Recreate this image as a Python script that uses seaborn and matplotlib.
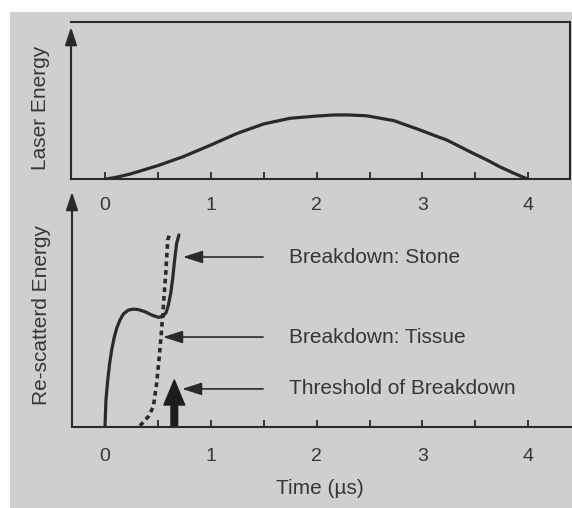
import numpy as np
import pandas as pd
import matplotlib
matplotlib.use("Agg")
import matplotlib.pyplot as plt
from matplotlib.patches import Rectangle, FancyArrowPatch
import seaborn as sns

# ---- data ----
laser_t = [0.0, 0.12, 0.24, 0.5, 0.74, 1.0, 1.25, 1.5, 1.75, 2.0, 2.16, 2.3, 2.47, 2.73, 2.98,
           3.10, 3.23, 3.48, 3.61, 3.73, 3.86, 4.0]
laser_e = [0.0, 0.015, 0.034, 0.087, 0.144, 0.218, 0.292, 0.352, 0.388, 0.402, 0.409, 0.409,
           0.404, 0.373, 0.313, 0.282, 0.250, 0.165, 0.123, 0.080, 0.040, 0.0]

stone_t = [0.0, 0.009, 0.026, 0.044, 0.063, 0.085, 0.110, 0.142, 0.173, 0.221, 0.268, 0.315,
           0.378, 0.441, 0.504, 0.545, 0.577, 0.599, 0.621, 0.640, 0.658, 0.677, 0.699]
stone_e = [0.0, 0.114, 0.199, 0.270, 0.327, 0.376, 0.419, 0.455, 0.480, 0.497, 0.501, 0.499,
           0.490, 0.476, 0.466, 0.469, 0.486, 0.518, 0.568, 0.632, 0.710, 0.781, 0.817]

tissue_t = [0.331, 0.409, 0.457, 0.488, 0.513, 0.535, 0.551, 0.574, 0.593, 0.608]
tissue_e = [0.004, 0.043, 0.085, 0.184, 0.298, 0.412, 0.511, 0.653, 0.795, 0.817]

threshold_t = 0.655
threshold_e = 0.199

major_ticks = [0, 1, 2, 3, 4]
minor_ticks = [0.5, 1.5, 2.5, 3.5]
tick_labels = ["0", "1", "2", "3", "4"]

ann_labels = ["Breakdown: Stone", "Breakdown: Tissue", "Threshold of Breakdown"]
ann_tip_t = [0.737, 0.548, 0.728]
ann_e = [0.723, 0.382, 0.161]
ann_tail_t = 1.494
ann_text_t = 1.74

ylabel_top = "Laser Energy"
ylabel_bottom = "Re-scatterd Energy"
xlabel = "Time (\u00b5s)"

# ---- styling ----
sns.set_style("ticks")
plt.rcParams['font.family'] = ['Liberation Sans', 'DejaVu Sans']

W, H = 572, 508
fig = plt.figure(figsize=(W / 100, H / 100), dpi=100, facecolor="white")
BG = "#cfcfcf"
INK = "#2a2a2a"
TXT = "#363636"
fig.patches.append(Rectangle((10 / W, 0), (W - 10) / W, (H - 12) / H,
                             transform=fig.transFigure, facecolor=BG,
                             edgecolor="none", zorder=-10))

PXU = 105.8   # pixels per microsecond
X0 = 105.0    # pixel of t = 0


def add_axes_px(left, right, top, bottom):
    ax = fig.add_axes([left / W, 1 - bottom / H, (right - left) / W, (bottom - top) / H])
    ax.set_facecolor("none")
    ax.set_xlim((left - X0) / PXU, (right - X0) / PXU)
    return ax


def style_axis(ax, pad):
    ax.set_xticks(major_ticks)
    ax.set_xticklabels(tick_labels)
    ax.set_xticks(minor_ticks, minor=True)
    ax.set_yticks([])
    ax.tick_params(axis="x", which="both", direction="in", length=5, width=1.3,
                   color=INK, labelsize=14, labelcolor=TXT, pad=pad)
    ax.spines["bottom"].set_linewidth(1.5)
    ax.spines["bottom"].set_color(INK)
    ax.spines["left"].set_visible(False)


def y_arrow(ax, top):
    ax.annotate("", xy=(0, top), xycoords="axes fraction", xytext=(0, 0),
                arrowprops=dict(arrowstyle="-|>,head_length=0.9,head_width=0.3",
                                lw=1.5, color=INK, mutation_scale=12,
                                shrinkA=0, shrinkB=0), annotation_clip=False)


# ---- top panel ----
ax1 = add_axes_px(71, 570, 22, 179.3)
ax1.set_ylim(0, 1)
style_axis(ax1, pad=12.5)
for s in ["top", "right"]:
    ax1.spines[s].set_visible(True)
    ax1.spines[s].set_linewidth(1.5)
    ax1.spines[s].set_color(INK)
y_arrow(ax1, 0.968)
df_laser = pd.DataFrame({"t": laser_t, "e": laser_e})
sns.lineplot(data=df_laser, x="t", y="e", ax=ax1, color=INK, lw=2.3, sort=False)
ax1.set_xlabel("")
ax1.set_ylabel("")

# ---- bottom panel ----
ax2 = add_axes_px(72, 572, 192, 426.7)
ax2.set_ylim(0, 1)
style_axis(ax2, pad=15.5)
ax2.spines["top"].set_visible(False)
ax2.spines["right"].set_visible(False)
y_arrow(ax2, 1.0)

df_stone = pd.DataFrame({"t": stone_t, "e": stone_e})
df_tissue = pd.DataFrame({"t": tissue_t, "e": tissue_e})
sns.lineplot(data=df_stone, x="t", y="e", ax=ax2, color=INK, lw=2.3, sort=False)
sns.lineplot(data=df_tissue, x="t", y="e", ax=ax2, color=INK, lw=2.6, sort=False,
             linestyle=(0, (1.3, 1.1)))
ax2.set_xlabel("")
ax2.set_ylabel("")

# threshold arrow (thick)
thr = FancyArrowPatch((threshold_t, 0), (threshold_t, threshold_e),
                      arrowstyle="simple,head_length=18,head_width=15,tail_width=4.8",
                      mutation_scale=1, color="#1c1c1c", shrinkA=0, shrinkB=0)
ax2.add_patch(thr)

# annotation arrows and texts
for lab, tip, e in zip(ann_labels, ann_tip_t, ann_e):
    ax2.annotate("", xy=(tip, e), xytext=(ann_tail_t, e),
                 arrowprops=dict(arrowstyle="-|>,head_length=1.0,head_width=0.32",
                                 lw=1.2, color=INK, mutation_scale=12,
                                 shrinkA=0, shrinkB=0))
    ax2.text(ann_text_t, e, lab, fontsize=15, color=TXT, va="center", ha="left")

# axis labels
fig.text(40 / W, 1 - 108 / H, ylabel_top, rotation=90, fontsize=15, color=TXT,
         ha="center", va="center")
fig.text(42 / W, 1 - 315 / H, ylabel_bottom, rotation=90, fontsize=15, color=TXT,
         ha="center", va="center")
fig.text(320 / W, 1 - 488 / H, xlabel, fontsize=15, color=TXT, ha="center", va="center")

fig.savefig("out.png", dpi=100, facecolor="white")
